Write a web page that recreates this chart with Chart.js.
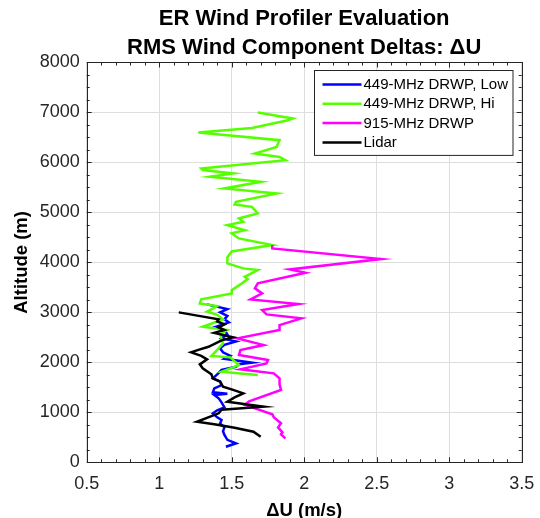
<!DOCTYPE html>
<html><head><meta charset="utf-8">
<script src="https://cdn.jsdelivr.net/npm/chart.js@4.4.0/dist/chart.umd.min.js"></script>
<style>html,body{margin:0;padding:0;background:#fff;}</style>
</head><body>
<canvas id="c" width="540" height="518"></canvas>
<script>
const titleLines = ['ER Wind Profiler Evaluation', 'RMS Wind Component Deltas: \u0394U'];
const xTitle = '\u0394U (m/s)';
const yTitle = 'Altitude (m)';
const seriesNames = ['449-MHz DRWP, Low', '449-MHz DRWP, Hi', '915-MHz DRWP', 'Lidar'];
const seriesColors = ['#0000ff', '#55ff00', '#ff00ff', '#000000'];

// 449-MHz Low
const lowDU  = [1.33,1.47,1.42,1.47,1.45,1.48,1.39,1.45,1.47,1.43,1.53,1.45,1.42,1.44,1.49,1.45,1.64,1.55,1.53,1.43,1.40,1.37,1.42,1.43,1.38,1.37,1.47,1.38,1.41,1.43,1.45,1.40,1.37,1.40,1.43,1.42,1.45,1.44,1.45,1.47,1.53,1.46];
const lowAlt = [3160,3066,3000,2930,2860,2800,2712,2640,2560,2480,2420,2350,2280,2200,2130,2070,1992,1960,1912,1850,1760,1680,1620,1546,1480,1400,1370,1346,1280,1200,1100,1040,980,900,846,780,700,620,546,450,380,312];
// 449-MHz Hi
const hiDU  = [1.68,1.92,1.88,1.64,1.27,1.83,1.81,1.66,1.83,1.87,1.29,1.30,1.51,1.35,1.70,1.45,1.81,1.53,1.52,1.64,1.68,1.55,1.58,1.47,1.59,1.50,1.55,1.78,1.50,1.47,1.47,1.58,1.68,1.59,1.61,1.56,1.50,1.50,1.29,1.28,1.40,1.33,1.40,1.44,1.30,1.47,1.42,1.44,1.40,1.36,1.49,1.55,1.43,1.68];
const hiAlt = [7000,6880,6840,6690,6600,6446,6312,6180,6110,6046,5880,5850,5780,5712,5612,5480,5380,5212,5160,5112,4980,4880,4812,4746,4646,4580,4480,4346,4220,4100,3980,3880,3846,3712,3666,3560,3446,3380,3260,3180,3126,3012,2950,2860,2712,2646,2560,2380,2250,2126,2100,1946,1812,1746];
// 915-MHz
const m915DU  = [1.78,1.78,2.53,1.90,2.01,1.94,1.68,1.66,1.71,1.63,1.96,1.71,1.74,1.98,1.83,1.83,1.54,1.72,1.56,1.55,1.75,1.74,1.56,1.79,1.83,1.83,1.84,1.62,1.59,1.78,1.79,1.84,1.82,1.85,1.84,1.87];
const m915Alt = [4346,4280,4066,3860,3792,3746,3580,3480,3380,3260,3166,3046,2960,2880,2746,2646,2480,2346,2246,2146,2046,1980,1860,1780,1680,1560,1446,1220,1150,960,900,780,700,600,560,480];
// Lidar
const lidarDU  = [1.135,1.41,1.40,1.45,1.41,1.45,1.38,1.51,1.43,1.34,1.27,1.22,1.29,1.33,1.28,1.30,1.36,1.37,1.42,1.44,1.51,1.58,1.52,1.47,1.72,1.43,1.41,1.26,1.38,1.52,1.65,1.70];
const lidarAlt = [3000,2860,2820,2760,2700,2646,2590,2500,2440,2312,2250,2200,2130,2060,1960,1880,1760,1680,1612,1512,1450,1380,1300,1212,1112,1050,980,812,760,690,612,512];

const xTickLabels = ['0.5','1','1.5','2','2.5','3','3.5'];
const yTickLabels = ['0','1000','2000','3000','4000','5000','6000','7000','8000'];

const FONT = "'Liberation Sans', Arial, Helvetica, sans-serif";
const INK = '#262626';
const pts = (xs, ys) => xs.map((v, i) => ({x: v, y: ys[i]}));
const seriesData = [pts(lowDU, lowAlt), pts(hiDU, hiAlt), pts(m915DU, m915Alt), pts(lidarDU, lidarAlt)];
const drawOrder = [3, 2, 1, 0];

const boxPlugin = {
  id: 'boxPlugin',
  afterDatasetsDraw(chart) {
    const {ctx, chartArea: a, scales: {x, y}} = chart;
    ctx.save();
    ctx.strokeStyle = INK;
    ctx.lineWidth = 1;
    ctx.beginPath();
    const xmin = Number(xTickLabels[0]), xmax = Number(xTickLabels[xTickLabels.length - 1]);
    const nx = Math.round((xmax - xmin) / 0.1);
    for (let i = 0; i <= nx; i++) {
      const v = xmin + i * 0.1;
      const len = (i % 5 === 0) ? 5 : 3;
      const p = Math.round(x.getPixelForValue(v)) + 0.5;
      ctx.moveTo(p, a.bottom); ctx.lineTo(p, a.bottom - len);
      ctx.moveTo(p, a.top); ctx.lineTo(p, a.top + len);
    }
    const ymax = Number(yTickLabels[yTickLabels.length - 1]);
    for (let i = 0; i <= ymax / 250; i++) {
      const v = i * 250;
      const len = (i % 4 === 0) ? 5 : 3;
      const p = Math.round(y.getPixelForValue(v)) + 0.5;
      ctx.moveTo(a.left, p); ctx.lineTo(a.left + len, p);
      ctx.moveTo(a.right, p); ctx.lineTo(a.right - len, p);
    }
    ctx.stroke();
    ctx.strokeRect(Math.round(a.left) + 0.5, Math.round(a.top) + 0.5, Math.round(a.right - a.left), Math.round(a.bottom - a.top));

    // legend
    ctx.font = '15px ' + FONT;
    const ds = chart.data.datasets;
    let tw = 0;
    ds.forEach(d => { tw = Math.max(tw, ctx.measureText(d.label).width); });
    const sample = 39, padL = 8, gap = 2, padR = 5, rowH = 19.3;
    const bw = padL + sample + gap + tw + padR;
    const bh = 14 + rowH * (ds.length - 1) + 13;
    const bx = Math.round(a.right - 9.5 - bw) + 0.5;
    const by = Math.round(a.top + 8) + 0.5;
    ctx.fillStyle = '#ffffff';
    ctx.fillRect(bx, by, bw, bh);
    ctx.strokeStyle = INK;
    ctx.strokeRect(bx, by, bw, bh);
    ds.forEach((d, i) => {
      const cy = by + 14 + i * rowH;
      ctx.strokeStyle = d.borderColor;
      ctx.lineWidth = 2.5;
      ctx.beginPath();
      ctx.moveTo(bx + padL, cy); ctx.lineTo(bx + padL + sample, cy);
      ctx.stroke();
      ctx.fillStyle = '#000';
      ctx.textBaseline = 'middle';
      ctx.textAlign = 'left';
      ctx.fillText(d.label, bx + padL + sample + gap, cy + 0.5);
    });
    ctx.restore();
  }
};

new Chart(document.getElementById('c'), {
  type: 'scatter',
  data: {
    datasets: seriesNames.map((n, i) => ({
      label: n,
      data: seriesData[i],
      borderColor: seriesColors[i],
      backgroundColor: seriesColors[i],
      borderWidth: 2.5,
      showLine: true,
      pointRadius: 0,
      pointHoverRadius: 0,
      tension: 0,
      order: drawOrder[i]
    }))
  },
  options: {
    responsive: false,
    animation: false,
    devicePixelRatio: 1,
    layout: {padding: {left: 0, right: 18.3, top: 0, bottom: 0}},
    plugins: {
      legend: {display: false},
      tooltip: {enabled: false},
      title: {
        display: true,
        text: titleLines,
        fullSize: false,
        color: '#000',
        font: {family: FONT, size: 22, weight: 'bold', lineHeight: 1.318},
        padding: {top: 4.5, bottom: 0}
      }
    },
    scales: {
      x: {
        type: 'linear',
        min: Number(xTickLabels[0]),
        max: Number(xTickLabels[xTickLabels.length - 1]),
        afterBuildTicks: s => { s.ticks = xTickLabels.map(t => ({value: Number(t)})); },
        ticks: {color: INK, font: {family: FONT, size: 18}, padding: 0, maxRotation: 0,
                callback: (v) => xTickLabels.find(t => Number(t) === v) ?? ''},
        grid: {color: '#dedede', lineWidth: 1, drawTicks: true, tickLength: 11, tickColor: 'rgba(0,0,0,0)'},
        border: {display: false},
        title: {display: true, text: xTitle, color: '#000',
                font: {family: FONT, size: 18.5, weight: 'bold', lineHeight: 0.82}, padding: {top: 0, bottom: 0}},
        afterFit: s => { s.height = 55.7; }
      },
      y: {
        type: 'linear',
        min: Number(yTickLabels[0]),
        max: Number(yTickLabels[yTickLabels.length - 1]),
        afterBuildTicks: s => { s.ticks = yTickLabels.map(t => ({value: Number(t)})); },
        ticks: {color: INK, font: {family: FONT, size: 18}, padding: 0,
                callback: (v) => yTickLabels.find(t => Number(t) === v) ?? ''},
        grid: {color: '#dedede', lineWidth: 1, drawTicks: true, tickLength: 7, tickColor: 'rgba(0,0,0,0)'},
        border: {display: false},
        title: {display: true, text: yTitle, color: '#000',
                font: {family: FONT, size: 18.5, weight: 'bold', lineHeight: 1.2}, padding: {top: 11, bottom: 0}},
        afterFit: s => { s.width = 86.7; }
      }
    }
  },
  plugins: [boxPlugin]
});
</script>
</body></html>
